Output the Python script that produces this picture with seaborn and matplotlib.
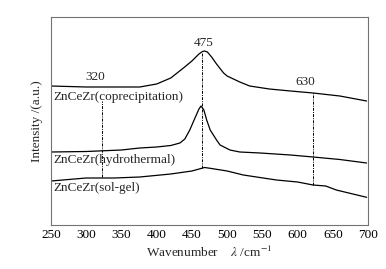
import matplotlib
matplotlib.use("Agg")
import matplotlib.pyplot as plt
import seaborn as sns

# wavenumber (cm-1) and intensity (a.u., arbitrary offset)
wn_coprec = [250, 300, 350, 376, 400, 420, 438, 450, 460, 465, 468, 472, 478, 485, 495, 500,
             518, 532, 560, 590, 622, 660, 698]
int_coprec = [139, 138, 138, 138, 141, 147, 157, 164, 171, 173.5, 174, 173, 168, 161, 152, 149,
              143, 139, 136, 134, 132, 129, 124]

wn_hydro = [250, 300, 350, 376, 400, 420, 433, 440, 447, 455, 460, 463, 467, 471,
            476, 485, 490, 504, 518, 547, 590, 622, 660, 698]
int_hydro = [73, 73.5, 75, 77, 78, 79.5, 82, 86, 95, 108, 116, 119, 115, 105,
             95, 85, 80, 75, 73, 72, 70, 68, 65.5, 62]

wn_solgel = [250, 300, 340, 376, 420, 450, 468, 476, 500, 523, 570, 600, 622, 640,
             655, 698]
int_solgel = [44, 47, 47, 48, 51, 54, 57.5, 56.7, 54, 50, 45, 43, 40, 39, 35, 27.7]

sample_names = ["ZnCeZr(coprecipitation)", "ZnCeZr(hydrothermal)", "ZnCeZr(sol-gel)"]

# marker lines: position, top, bottom
mark_pos = [322, 465, 622]
mark_top = [124, 173, 132]
mark_bot = [48, 57, 40]
mark_text = ["320", "475", "630"]

sns.set_style("white")
plt.rcParams['font.family'] = ['Liberation Serif', 'DejaVu Serif']
plt.rcParams['mathtext.fontset'] = 'stix'

fig = plt.figure(figsize=(3.86, 2.69), dpi=100)
ax = fig.add_axes([51 / 386, 1 - 225 / 269, 317 / 386, 208 / 269])

for wn, val in [(wn_coprec, int_coprec), (wn_hydro, int_hydro), (wn_solgel, int_solgel)]:
    sns.lineplot(x=wn, y=val, ax=ax, color="black", lw=0.9, sort=False)

ax.vlines(mark_pos, mark_bot, mark_top, colors="black",
          linestyles=[(0, (3, 1.2, 1, 1.2))], lw=0.7)

fs = 9.5
ax.text(312.5, 148, mark_text[0], ha="center", va="center", fontsize=fs)
ax.text(467, 182, mark_text[1], ha="center", va="center", fontsize=fs)
ax.text(610.6, 143, mark_text[2], ha="center", va="center", fontsize=fs)

ax.text(253, 128, sample_names[0], ha="left", va="center", fontsize=fs)
ax.text(253, 65, sample_names[1], ha="left", va="center", fontsize=fs)
ax.text(253, 37, sample_names[2], ha="left", va="center", fontsize=fs)

ax.set_xlim(250, 700)
ax.set_ylim(0, 208)
ax.set_xticks(range(250, 701, 50))
ax.set_yticks([])
ax.tick_params(axis="x", direction="in", length=3, width=0.6, labelsize=fs, pad=3,
               colors="black")
for s in ax.spines.values():
    s.set_color("0.45")
    s.set_linewidth(0.8)

ax.set_xlabel(r"Wavenumber    $\it{\lambda}$ /cm$^{-1}$", fontsize=fs, labelpad=3)
ax.set_ylabel("Intensity /(a.u.)", fontsize=fs, labelpad=6)

fig.savefig("out.png", dpi=100)
